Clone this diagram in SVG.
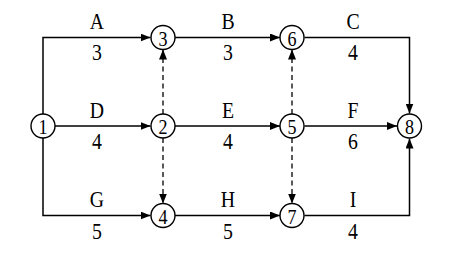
<svg xmlns="http://www.w3.org/2000/svg" width="464" height="259" viewBox="0 0 464 259">
<defs>
<marker id="ah" markerWidth="10" markerHeight="8" refX="10" refY="4" orient="auto" markerUnits="userSpaceOnUse">
<path d="M0,0 L10,4 L0,8 Z" fill="#000"/>
</marker>
<style>
.e{fill:none;stroke:#000;stroke-width:1.5}
.d{fill:none;stroke:#000;stroke-width:1.3;stroke-dasharray:5,3.5}
.n{fill:#fff;stroke:#000;stroke-width:1.4}
.t{font-family:"Liberation Serif","Times New Roman",serif;font-size:23px;fill:#000;text-anchor:middle}
.nt{font-family:"Liberation Serif","Times New Roman",serif;font-size:21px;fill:#000;text-anchor:middle}
</style>
</defs>
<rect width="464" height="259" fill="#fff"/>
<g id="connectors">
<path class="e" d="M43,126 V37.5 H150.5" marker-end="url(#ah)"/>
<path class="e" d="M55,126 H150.5" marker-end="url(#ah)"/>
<path class="e" d="M43,126 V215.5 H150.5" marker-end="url(#ah)"/>
<path class="e" d="M175,37.5 H280" marker-end="url(#ah)"/>
<path class="e" d="M175,126 H280" marker-end="url(#ah)"/>
<path class="e" d="M175,215.5 H280" marker-end="url(#ah)"/>
<path class="e" d="M304.5,37.5 H409.5 V113.5" marker-end="url(#ah)"/>
<path class="e" d="M304.5,126 H397" marker-end="url(#ah)"/>
<path class="e" d="M304.5,215.5 H409.5 V138.5" marker-end="url(#ah)"/>
<path class="d" d="M163,114 V49.5" marker-end="url(#ah)"/>
<path class="d" d="M163,138 V203.5" marker-end="url(#ah)"/>
<path class="d" d="M292,114 V49.5" marker-end="url(#ah)"/>
<path class="d" d="M292,138 V203.5" marker-end="url(#ah)"/>
<text class="t" transform="translate(97 29) scale(0.86 1)">A</text><text class="t" transform="translate(97 60) scale(0.86 1)">3</text>
<text class="t" transform="translate(228 29) scale(0.86 1)">B</text><text class="t" transform="translate(228 60) scale(0.86 1)">3</text>
<text class="t" transform="translate(353 29) scale(0.86 1)">C</text><text class="t" transform="translate(353 60) scale(0.86 1)">4</text>
<text class="t" transform="translate(97 117.5) scale(0.86 1)">D</text><text class="t" transform="translate(97 149) scale(0.86 1)">4</text>
<text class="t" transform="translate(228 117.5) scale(0.86 1)">E</text><text class="t" transform="translate(228 149) scale(0.86 1)">4</text>
<text class="t" transform="translate(353 117.5) scale(0.86 1)">F</text><text class="t" transform="translate(353 149) scale(0.86 1)">6</text>
<text class="t" transform="translate(97 207) scale(0.86 1)">G</text><text class="t" transform="translate(97 239) scale(0.86 1)">5</text>
<text class="t" transform="translate(228 207) scale(0.86 1)">H</text><text class="t" transform="translate(228 239) scale(0.86 1)">5</text>
<text class="t" transform="translate(353 207) scale(0.86 1)">I</text><text class="t" transform="translate(353 239) scale(0.86 1)">4</text>
</g>
<g id="n1"><circle class="n" cx="43" cy="126" r="12"/><text class="nt" transform="translate(43 134) scale(0.86 1)">1</text></g>
<g id="n2"><circle class="n" cx="163" cy="126" r="12"/><text class="nt" transform="translate(163 134) scale(0.86 1)">2</text></g>
<g id="n3"><circle class="n" cx="163" cy="37.5" r="12"/><text class="nt" transform="translate(163 45.5) scale(0.86 1)">3</text></g>
<g id="n4"><circle class="n" cx="163" cy="215.5" r="12"/><text class="nt" transform="translate(163 223.5) scale(0.86 1)">4</text></g>
<g id="n5"><circle class="n" cx="292" cy="126" r="12"/><text class="nt" transform="translate(292 134) scale(0.86 1)">5</text></g>
<g id="n6"><circle class="n" cx="292" cy="37.5" r="12"/><text class="nt" transform="translate(292 45.5) scale(0.86 1)">6</text></g>
<g id="n7"><circle class="n" cx="292" cy="215.5" r="12"/><text class="nt" transform="translate(292 223.5) scale(0.86 1)">7</text></g>
<g id="n8"><circle class="n" cx="409.5" cy="126" r="12"/><text class="nt" transform="translate(409.5 134) scale(0.86 1)">8</text></g>
</svg>
